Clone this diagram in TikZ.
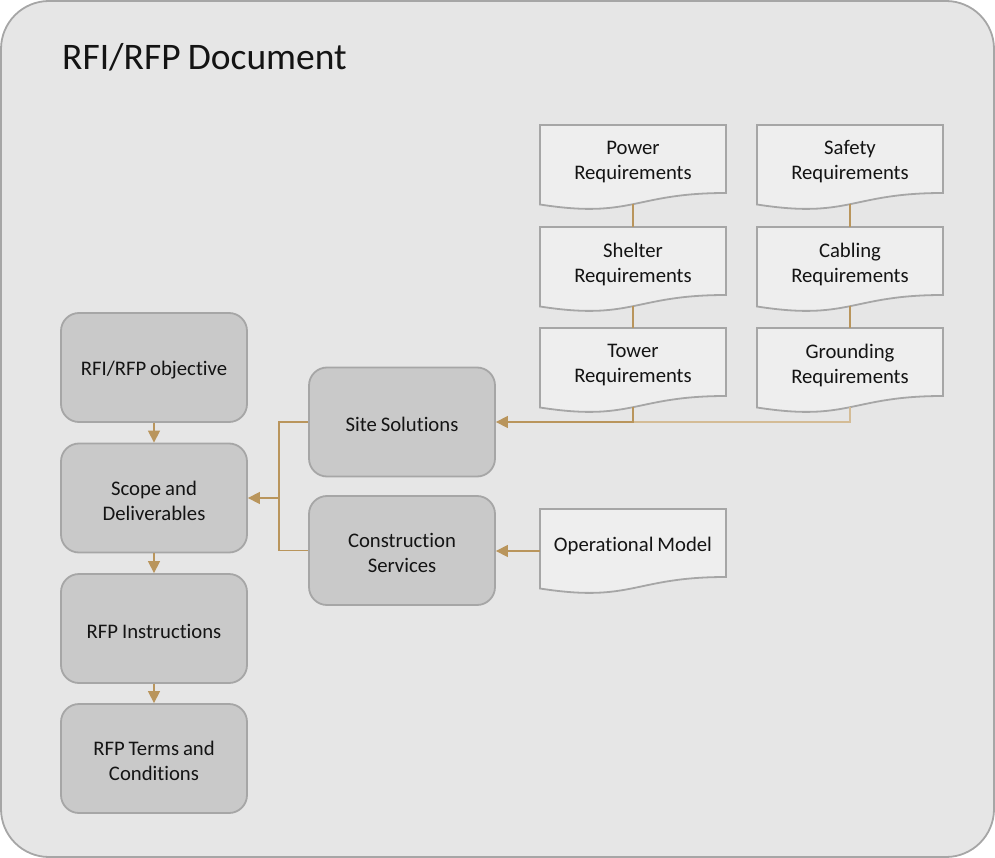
\documentclass[tikz,border=0pt]{standalone}
\usepackage{fontspec}
\setmainfont{Carlito}[Ligatures=NoCommon, WordSpace=0.85]
\usetikzlibrary{arrows.meta}
\definecolor{frameF}{RGB}{230,230,230}
\definecolor{borderG}{RGB}{166,166,166}
\definecolor{boxF}{RGB}{201,201,201}
\definecolor{docF}{RGB}{238,238,238}
\definecolor{tanC}{RGB}{185,149,92}
\definecolor{tanL}{RGB}{212,188,150}
\definecolor{txtC}{RGB}{20,20,20}
\tikzset{
  rbox/.style={draw=borderG, fill=boxF, line width=1.8pt, rounded corners=18pt,
    minimum width=186pt, minimum height=109pt, text width=176pt, align=center,
    inner sep=0pt, font=\fontsize{20.7}{25}\selectfont, text=txtC},
  boxlabel/.style={align=center, inner sep=0pt, font=\fontsize{20.7}{25}\selectfont, text=txtC},
  docshape/.style={draw=borderG, fill=docF, line width=1.8pt},
  doctext/.style={align=center, inner sep=0pt, font=\fontsize{20.7}{25}\selectfont, text=txtC},
  conn/.style={draw=tanC, line width=1.3pt},
  connlight/.style={draw=tanL, line width=1.3pt},
  tip/.style={-{Triangle[length=12pt,width=12pt]}},
}
\newcommand\docnode[4]{%
  \begin{scope}[shift={(#2,#3)}]
    \draw[docshape] (0,0) -- (186,0) -- (186,68) .. controls (93,68) and (93,94) .. (0,79.5) -- cycle;
    \node[doctext] (#1) at (93,37) {#4};
    \coordinate (#1-b) at (93,79.2);
    \coordinate (#1-t) at (93,0);
    \coordinate (#1-w) at (0,42);
  \end{scope}}
\newcommand\boxnode[4]{%
  \node[rbox] (#1) at (#2,#3) {};
  \node[boxlabel] (#1-label) at (#2,#3+2.5) {#4};}
\begin{document}
\begin{tikzpicture}[x=1pt,y=-1pt]
\useasboundingbox (0,0) rectangle (995,858);
\draw[draw=borderG, fill=frameF, line width=1.8pt, rounded corners=48pt] (1,1) rectangle (994,857);
\node[anchor=base west, inner sep=0pt, font=\fontsize{37.5}{44}\selectfont, text=txtC] (title) at (62,69.5) {RFI/RFP Document};

\boxnode{obj}{154}{367.5}{RFI/RFP objective}
\boxnode{scope}{154}{498}{Scope and\\Deliverables}
\boxnode{instr}{154}{628.5}{RFP Instructions}
\boxnode{terms}{154}{758.5}{RFP Terms and\\Conditions}
\boxnode{site}{402}{422}{Site Solutions}
\boxnode{cons}{402}{550.5}{Construction\\Services}

\docnode{power}{540}{125}{Power\\Requirements}
\docnode{safety}{757}{125}{Safety\\Requirements}
\docnode{shelter}{540}{227}{Shelter\\Requirements}
\docnode{cabling}{757}{227}{Cabling\\Requirements}
\docnode{tower}{540}{328}{Tower\\Requirements}
\docnode{ground}{757}{328}{Grounding\\Requirements}
\docnode{ops}{540}{509}{Operational Model}

\coordinate (j) at (279,498);

\draw[conn,tip] (obj) -- (scope);
\draw[conn,tip] (scope) -- (instr);
\draw[conn,tip] (instr) -- (terms);

\draw[conn] (power-b) -- (shelter-t);
\draw[conn] (shelter-b) -- (tower-t);
\draw[conn] (safety-b) -- (cabling-t);
\draw[conn] (cabling-b) -- (ground-t);

\draw[connlight] (ground-b) |- (tower-b |- site.east);
\draw[conn,tip] (tower-b) |- (site.east);

\draw[conn,tip] (site.west) -- (j |- site.west) -- (j) -- (scope.east);
\draw[conn] (cons.west) -| (j);
\draw[conn,tip] (ops-w) -- (ops-w -| cons.east);
\end{tikzpicture}
\end{document}
